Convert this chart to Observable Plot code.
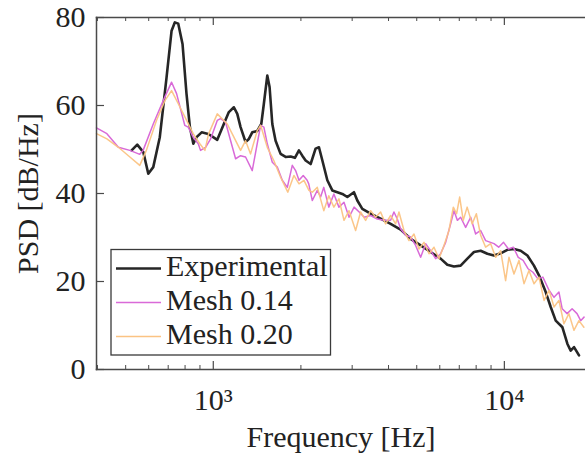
<!DOCTYPE html>
<html>
<head>
<meta charset="utf-8">
<script src="https://cdn.jsdelivr.net/npm/d3@7"></script>
<script src="https://cdn.jsdelivr.net/npm/@observablehq/plot@0.6"></script>
<style>
  body { margin: 0; background: #fff; }
  #wrap { position: relative; width: 585px; height: 457px; overflow: hidden; }
  #legend { position: absolute; left: 0; top: 0; }
</style>
</head>
<body>
<div id="wrap"></div>
<script>
// ---- data ----
const expFreq = [524,548,575,598,622,655,691,719,738,758,784,809,831,854,876,912,954,979,1032,1087,1131,1177,1209,1241,1291,1325,1361,1416,1462,1492,1533,1561,1595,1637,1703,1772,1844,1907,1969,2022,2076,2160,2246,2307,2370,2465,2564,2668,2776,2887,3043,3125,3251,3472,3757,4067,4402,4764,5157,5581,6040,6369,6710,7075,7463,7864,8290,8743,9211,9712,10240,10790,11380,12000,12640,13150,13870,14430,15010,15830,16470,16900,17350,18050];
const expPsd = [49.8,51.1,49.4,44.5,46.0,52.8,66.4,77.0,78.9,78.6,74.0,62.7,55.1,51.3,52.8,53.9,53.6,53.2,52.2,55.8,58.5,59.6,58.1,55.1,51.7,52.4,53.9,54.2,55.8,60.4,66.8,64.2,55.8,52.0,49.0,48.3,48.4,48.1,49.8,48.6,47.5,46.7,50.2,50.5,47.5,43.0,40.7,40.3,39.9,39.2,40.3,38.4,36.5,35.4,34.3,33.1,31.8,29.7,28.2,26.7,25.2,23.8,23.4,23.6,25.2,26.7,27.0,26.3,25.9,26.4,27.2,27.4,27.0,25.9,23.6,21.4,17.6,14.2,11.1,9.6,5.8,4.3,5.1,3.2];

const mesh14Freq = [397,431,472,517,559,574,622,673,719,748,798,820,853,888,904,941,979,1032,1059,1102,1147,1193,1241,1291,1361,1408,1454,1492,1533,1595,1659,1726,1796,1868,1918,1970,2037,2101,2128,2189,2277,2337,2397,2494,2596,2702,2812,2927,3046,3171,3300,3472,3659,3857,4067,4175,4287,4402,4579,4764,4956,5157,5364,5581,5806,6040,6284,6538,6712,6894,7076,7362,7659,7968,8289,8624,9213,9560,9937,10330,10730,11160,11600,12060,12540,13040,13560,14240,14810,15400,15800,16430,17090,17770,18290,18780];
const mesh14Psd = [54.9,53.6,50.5,49.8,48.9,49.8,55.8,61.1,65.3,62.7,55.5,55.1,52.8,51.3,49.8,50.5,52.4,56.6,57.0,56.2,52.0,47.9,48.6,48.3,45.2,50.5,55.5,55.1,51.3,47.1,46.0,43.0,41.4,46.4,45.2,43.0,44.1,43.0,42.2,38.4,40.7,39.2,41.4,36.9,39.9,36.9,38.0,34.6,36.9,35.8,34.6,35.0,34.2,33.9,33.9,35.8,34.2,32.0,30.5,30.1,28.2,25.5,28.6,27.0,25.2,26.3,28.9,33.1,36.1,33.9,34.6,32.3,34.6,30.8,31.6,29.3,28.6,27.8,28.9,27.4,27.8,25.5,24.8,22.9,22.1,20.6,21.0,18.0,16.4,17.6,13.8,12.7,13.8,12.7,11.1,11.9];

const mesh20Freq = [397,431,472,517,559,589,638,682,719,758,810,853,899,936,963,1032,1117,1177,1241,1291,1343,1416,1454,1533,1614,1703,1803,1892,1970,2049,2131,2189,2277,2397,2494,2596,2702,2812,2927,3083,3207,3337,3472,3612,3757,3909,4067,4231,4344,4520,4702,4892,5088,5294,5509,5731,5962,6202,6453,6678,6855,7022,7223,7450,7751,8012,8289,8624,8972,9335,9711,10100,10370,10790,11230,11680,12150,12640,13150,13690,14240,14810,15400,16020,16660,17340,18040,18760];
const mesh20Psd = [53.6,52.4,50.5,48.3,46.4,49.8,56.6,61.1,63.4,60.4,56.6,53.6,51.3,49.8,53.5,58.1,55.8,52.8,49.8,52.0,49.0,54.3,55.5,50.5,47.5,43.7,40.3,44.1,42.2,43.0,40.7,40.3,41.4,36.1,39.5,36.9,38.8,33.9,36.1,31.6,35.8,33.9,36.1,34.6,35.8,33.1,35.0,33.1,35.8,31.6,29.3,30.8,27.4,28.9,26.3,27.8,25.2,28.2,31.6,36.9,35.4,39.2,33.9,36.9,33.1,35.4,30.5,27.8,28.6,25.5,27.0,20.2,25.5,21.7,24.8,19.5,22.5,19.5,21.0,15.7,18.0,14.2,15.7,10.4,12.7,8.9,11.1,9.6];

const seriesNames = ["Experimental", "Mesh 0.14", "Mesh 0.20"];
const xMajorTicks = [1000, 10000];
const xMinorTicks = [400,500,600,700,800,900,2000,3000,4000,5000,6000,7000,8000,9000];
const yTicks = [0, 20, 40, 60, 80];
const xDomain = [397, 19000];
const yDomain = [0, 80];

// ---- build ----
const zipSeries = (fs, vs) => fs.map((f, i) => ({f, v: vs[i]}));
const expData = zipSeries(expFreq, expPsd);
const m14Data = zipSeries(mesh14Freq, mesh14Psd);
const m20Data = zipSeries(mesh20Freq, mesh20Psd);

const W = 585, H = 457, mL = 96, mR = 0, mT = 17, mB = 88;
const plotH = H - mT - mB, plotW = W - mL - mR;
const FONT = "'Liberation Serif', 'Times New Roman', serif";
const colors = ["#262626", "#d96ad8", "#fbc383"];
const widths = [2.6, 1.5, 1.5];
const axisColor = "#4a4a4a";

const sup = {"0":"⁰","1":"¹","2":"²","3":"³","4":"⁴","5":"⁵","6":"⁶","7":"⁷","8":"⁸","9":"⁹"};
const fmtPow = d => "10" + String(Math.round(Math.log10(d))).split("").map(c => sup[c]).join("");

const chart = Plot.plot({
  width: W, height: H,
  marginLeft: mL, marginRight: mR, marginTop: mT, marginBottom: mB,
  style: {fontFamily: FONT, fontSize: "30px", color: "#222", background: "#fff", overflow: "visible"},
  x: {type: "log", domain: xDomain},
  y: {domain: yDomain},
  marks: [
    Plot.line(expData, {x: "f", y: "v", stroke: colors[0], strokeWidth: widths[0]}),
    Plot.line(m14Data, {x: "f", y: "v", stroke: colors[1], strokeWidth: widths[1]}),
    Plot.line(m20Data, {x: "f", y: "v", stroke: colors[2], strokeWidth: widths[2], strokeOpacity: 0.95}),
    Plot.frame({anchor: "left", stroke: axisColor, strokeWidth: 1.5}),
    Plot.frame({anchor: "top", stroke: axisColor, strokeWidth: 1.5}),
    Plot.frame({anchor: "bottom", stroke: axisColor, strokeWidth: 1.5}),
    Plot.tickX(xMajorTicks, {x: d => d, insetTop: plotH - 8, stroke: axisColor, strokeWidth: 1.2}),
    Plot.tickX(xMajorTicks, {x: d => d, insetBottom: plotH - 8, stroke: axisColor, strokeWidth: 1.2}),
    Plot.tickX(xMinorTicks, {x: d => d, insetTop: plotH - 4, stroke: axisColor, strokeWidth: 1}),
    Plot.tickX(xMinorTicks, {x: d => d, insetBottom: plotH - 4, stroke: axisColor, strokeWidth: 1}),
    Plot.tickY(yTicks, {y: d => d, insetRight: plotW - 8, stroke: axisColor, strokeWidth: 1.2}),
    Plot.axisX({ticks: xMajorTicks, tickSize: 0, tickPadding: 19, tickFormat: fmtPow,
      label: "Frequency [Hz]", labelAnchor: "center", labelArrow: "none", labelOffset: 77}),
    Plot.axisY({ticks: yTicks, tickSize: 0, tickPadding: 11,
      label: "PSD [dB/Hz]", labelAnchor: "center", labelArrow: "none", labelOffset: 80})
  ]
});
document.getElementById("wrap").appendChild(chart);

// ---- legend (overlay) ----
const ns = "http://www.w3.org/2000/svg";
const leg = document.createElementNS(ns, "svg");
leg.setAttribute("id", "legend");
leg.setAttribute("width", W); leg.setAttribute("height", H);
leg.style.pointerEvents = "none";
const box = document.createElementNS(ns, "rect");
box.setAttribute("x", 111); box.setAttribute("y", 249.5);
box.setAttribute("width", 219.5); box.setAttribute("height", 105.5);
box.setAttribute("fill", "#fff"); box.setAttribute("stroke", "#3a3a3a"); box.setAttribute("stroke-width", 1.3);
leg.appendChild(box);
const rowLineY = [268.5, 302.5, 336.5];
const rowBase = [276, 309.5, 343.5];
seriesNames.forEach((name, i) => {
  const ln = document.createElementNS(ns, "line");
  ln.setAttribute("x1", 116); ln.setAttribute("x2", 161);
  ln.setAttribute("y1", rowLineY[i]); ln.setAttribute("y2", rowLineY[i]);
  ln.setAttribute("stroke", colors[i]); ln.setAttribute("stroke-width", widths[i]);
  leg.appendChild(ln);
  const tx = document.createElementNS(ns, "text");
  tx.setAttribute("x", 166); tx.setAttribute("y", rowBase[i]);
  tx.setAttribute("font-family", FONT); tx.setAttribute("font-size", 30); tx.setAttribute("fill", "#222");
  tx.textContent = name;
  leg.appendChild(tx);
});
document.getElementById("wrap").appendChild(leg);
</script>
</body>
</html>
